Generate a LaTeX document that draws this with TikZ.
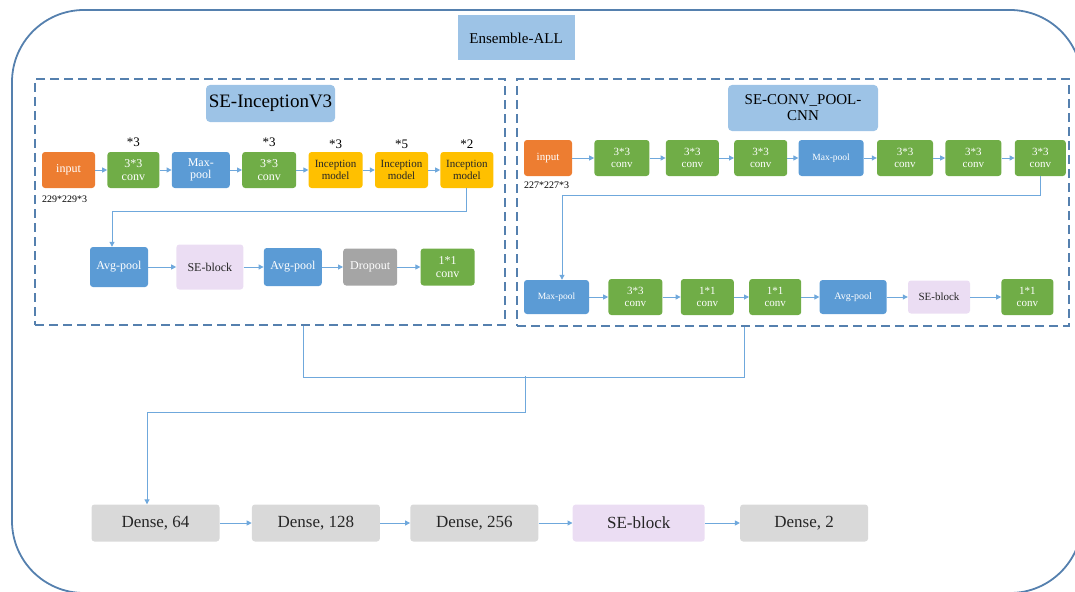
\documentclass[tikz,border=0pt]{standalone}
\usepackage{fontspec}
\setmainfont{Liberation Serif}
\usetikzlibrary{arrows.meta, positioning}

\definecolor{inorange}{HTML}{ED7D31}
\definecolor{convgreen}{HTML}{70AD47}
\definecolor{poolblue}{HTML}{5B9BD5}
\definecolor{incgold}{HTML}{FFC000}
\definecolor{selilac}{HTML}{EBDDF3}
\definecolor{dropgray}{HTML}{A5A5A5}
\definecolor{densegray}{HTML}{D9D9D9}
\definecolor{headblue}{HTML}{9DC3E6}
\definecolor{borderblue}{HTML}{5580AE}
\definecolor{arrowblue}{HTML}{6FA8DC}

\begin{document}
\begin{tikzpicture}[x=1pt, y=-1pt,
  blk/.style={rounded corners=3pt, align=center, inner sep=0pt, text=white,
              font=\fontsize{12}{12.5}\selectfont, minimum height=36pt},
  inp/.style={blk, fill=inorange},
  convbox/.style={blk, fill=convgreen},
  poolbox/.style={blk, fill=poolblue},
  incep/.style={blk, fill=incgold, text=black!85, font=\fontsize{11}{12}\selectfont},
  sebox/.style={blk, fill=selilac, text=black!85},
  dropbox/.style={blk, fill=dropgray},
  densebox/.style={blk, fill=densegray, text=black!85, font=\fontsize{17}{17}\selectfont,
                   minimum height=37pt, minimum width=128pt},
  head/.style={rounded corners=4pt, fill=headblue, align=center, inner sep=0pt,
               font=\fontsize{19}{21}\selectfont},
  dashbox/.style={draw=borderblue, line width=2pt, dash pattern=on 9pt off 5pt, inner sep=0pt},
  rep/.style={inner sep=0pt, font=\fontsize{13}{13}\selectfont},
  dims/.style={inner sep=0pt, font=\fontsize{10}{10}\selectfont},
  arrow/.style={-{Triangle[length=5pt, width=5pt]}, arrowblue, line width=1pt},
  link/.style={arrowblue, line width=1pt}
]
\useasboundingbox (0,0) rectangle (1075,591);
\clip (0,0) rectangle (1075,591);

% outer frame and the three headings
\draw[borderblue, line width=1.8pt, rounded corners=72pt] (12,10) rectangle (1082,593);
\node[fill=headblue, minimum width=117pt, minimum height=45pt, inner sep=0pt,
      font=\fontsize{15}{15}\selectfont] (ens) at (516,38) {Ensemble-ALL};
\node[dashbox, minimum width=470pt, minimum height=246pt] (lbox) at (270,202) {};
\node[dashbox, minimum width=552pt, minimum height=247pt] (rbox) at (793,202.5) {};
\node[head, minimum width=129pt, minimum height=37pt] (lhead) at (270.5,103.5) {SE-InceptionV3};
\node[head, minimum width=150pt, minimum height=46pt, font=\fontsize{15}{16}\selectfont]
  (rhead) at (803,108) {SE-CONV\_POOL-\\CNN};

% left branch, row 1
\node[inp, minimum width=53pt] (lin) at (68.5,170) {input};
\node[convbox, minimum width=52pt, right=12pt of lin] (lc1) {3*3\\conv};
\node[poolbox, minimum width=58pt, right=12pt of lc1] (lmp) {Max-\\pool};
\node[convbox, minimum width=54pt, right=12pt of lmp] (lc2) {3*3\\conv};
\node[incep, minimum width=54pt, right=12pt of lc2] (li1) {Inception\\model};
\node[incep, minimum width=53pt, right=12pt of li1] (li2) {Inception\\model};
\node[incep, minimum width=53pt, right=12pt of li2] (li3) {Inception\\model};
\node[rep, above=5pt of lc1] (rp1) {*3};
\node[rep, above=5pt of lc2] (rp2) {*3};
\node[rep, above=3pt of li1] (rp3) {*3};
\node[rep, above=3pt of li2] (rp4) {*5};
\node[rep, above=3pt of li3] (rp5) {*2};
\node[dims, anchor=north west] (ldim) at ([yshift=-7pt]lin.south west) {229*229*3};

% left branch, row 2
\node[poolbox, minimum width=58pt, minimum height=40pt] (lavg1) at (119,267) {Avg-pool};
\node[sebox, minimum width=67pt, minimum height=45pt, right=28pt of lavg1] (lse) {SE-block};
\node[poolbox, minimum width=58pt, minimum height=38pt, right=20pt of lse] (lavg2) {Avg-pool};
\node[dropbox, minimum width=54pt, minimum height=37pt, right=21pt of lavg2] (ldrop) {Dropout};
\node[convbox, minimum width=54pt, minimum height=37pt, right=23pt of ldrop] (lc3) {1*1\\conv};

% right branch, row 1
\node[inp, minimum width=48pt, font=\fontsize{11}{12}\selectfont] (rin) at (548,158) {input};
\node[convbox, minimum width=55pt, font=\fontsize{11}{12}\selectfont, right=22pt of rin] (rc1) {3*3\\conv};
\node[convbox, minimum width=53pt, font=\fontsize{11}{12}\selectfont, right=16pt of rc1] (rc2) {3*3\\conv};
\node[convbox, minimum width=53pt, font=\fontsize{11}{12}\selectfont, right=15pt of rc2] (rc3) {3*3\\conv};
\node[poolbox, minimum width=65pt, font=\fontsize{9.5}{10}\selectfont, right=11pt of rc3] (rmp) {Max-pool};
\node[convbox, minimum width=56pt, font=\fontsize{11}{12}\selectfont, right=13pt of rmp] (rc4) {3*3\\conv};
\node[convbox, minimum width=56pt, font=\fontsize{11}{12}\selectfont, right=12pt of rc4] (rc5) {3*3\\conv};
\node[convbox, minimum width=51pt, font=\fontsize{11}{12}\selectfont, right=13pt of rc5] (rc6) {3*3\\conv};
\node[dims, anchor=north west] (rdim) at ([yshift=-5pt]rin.south west) {227*227*3};

% right branch, row 2
\node[poolbox, minimum width=65pt, minimum height=34pt, font=\fontsize{9.5}{10}\selectfont] (rmp2) at (556.5,297) {Max-pool};
\node[convbox, minimum width=54pt, font=\fontsize{11}{12}\selectfont, right=19pt of rmp2] (rc7) {3*3\\conv};
\node[convbox, minimum width=53pt, font=\fontsize{11}{12}\selectfont, right=18pt of rc7] (rc8) {1*1\\conv};
\node[convbox, minimum width=52pt, font=\fontsize{11}{12}\selectfont, right=15pt of rc8] (rc9) {1*1\\conv};
\node[poolbox, minimum width=67pt, minimum height=34pt, font=\fontsize{10}{10}\selectfont, right=18pt of rc9] (ravg) {Avg-pool};
\node[sebox, minimum width=62pt, minimum height=33pt, font=\fontsize{11}{11}\selectfont, right=21pt of ravg] (rse) {SE-block};
\node[convbox, minimum width=52pt, font=\fontsize{11}{12}\selectfont, right=31pt of rse] (rc10) {1*1\\conv};

% dense head
\node[densebox] (d1) at (155.5,523) {Dense, 64};
\node[densebox, right=32pt of d1] (d2) {Dense, 128};
\node[densebox, right=30pt of d2] (d3) {Dense, 256};
\node[densebox, fill=selilac, minimum width=132pt, right=34pt of d3] (dse) {SE-block};
\node[densebox, right=35pt of dse] (d4) {Dense, 2};

% connectors
\foreach \a/\b in {lin/lc1, lc1/lmp, lmp/lc2, lc2/li1, li1/li2, li2/li3,
                   lavg1/lse, lse/lavg2, lavg2/ldrop, ldrop/lc3,
                   rin/rc1, rc1/rc2, rc2/rc3, rc3/rmp, rmp/rc4, rc4/rc5, rc5/rc6,
                   rmp2/rc7, rc7/rc8, rc8/rc9, rc9/ravg, ravg/rse, rse/rc10,
                   d1/d2, d2/d3, d3/dse, dse/d4}
  \draw[arrow] (\a) -- (\b);
\draw[arrow] (li3.south) -- ++(0,23) -| ([xshift=-7pt]lavg1.north);
\draw[arrow] (rc6.south) -- ++(0,19) -| ([xshift=5.5pt]rmp2.north);
\draw[link] ([xshift=33pt]lbox.south) -- ++(0,51) -| ([xshift=-49pt]rbox.south);
\coordinate (merge) at (525,376);
\draw[arrow] (merge) -- ++(0,36) -| ([xshift=-8.5pt]d1.north);
\end{tikzpicture}
\end{document}
